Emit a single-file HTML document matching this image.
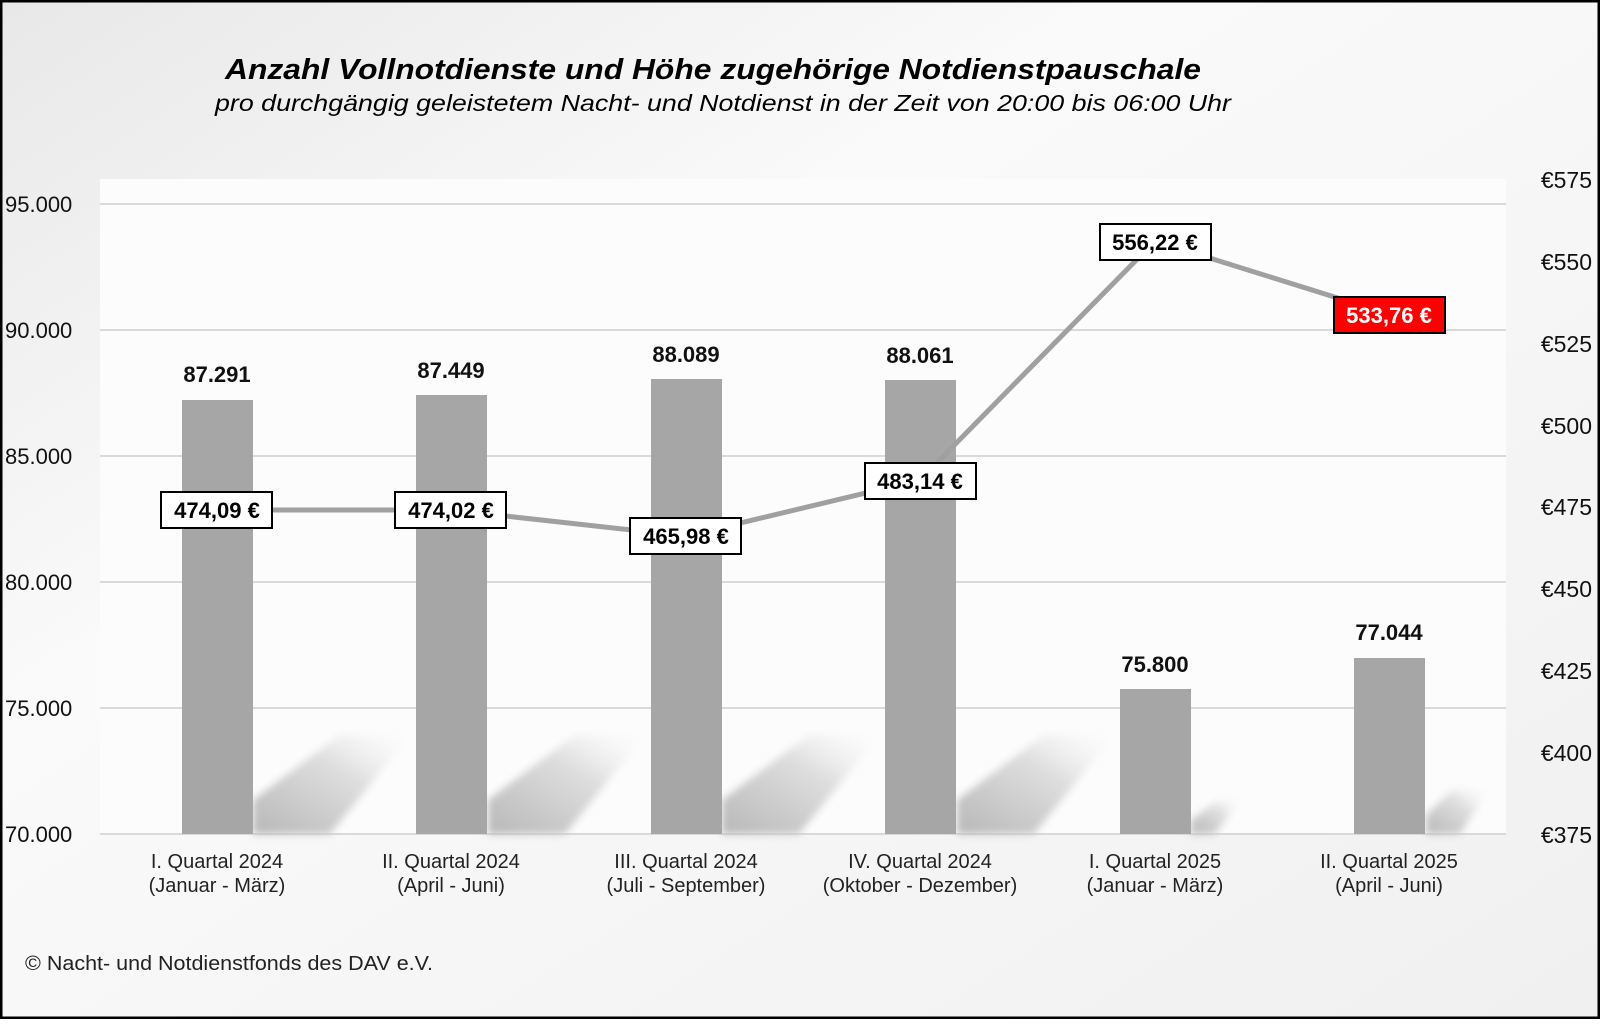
<!DOCTYPE html>
<html><head><meta charset="utf-8"><style>
html,body{margin:0;padding:0;}
body{width:1600px;height:1019px;overflow:hidden;}
</style></head><body>
<svg width="1600" height="1019" viewBox="0 0 1600 1019" xmlns="http://www.w3.org/2000/svg" font-family="Liberation Sans, Arial, sans-serif">
<defs>
<linearGradient id="bg" x1="0" y1="0" x2="1" y2="1">
<stop offset="0" stop-color="#e8e8e8"/><stop offset="0.35" stop-color="#fafafa"/><stop offset="1" stop-color="#f0f0f0"/>
</linearGradient>
<linearGradient id="sh" x1="0" y1="1" x2="1" y2="0">
<stop offset="0" stop-color="#b8b8b8"/><stop offset="0.6" stop-color="#dedede"/><stop offset="1" stop-color="#f6f6f6" stop-opacity="0"/>
</linearGradient>
<filter id="bl" x="-20%" y="-20%" width="140%" height="140%"><feGaussianBlur stdDeviation="4"/></filter>
</defs>
<rect x="0" y="0" width="1600" height="1019" fill="url(#bg)"/>
<rect x="1" y="1" width="1598" height="1017" fill="none" stroke="#000" stroke-width="3"/>
<rect x="100" y="179" width="1406" height="655" fill="#fcfcfc"/>
<text x="225" y="79" font-size="29" font-weight="bold" font-style="italic" textLength="976" lengthAdjust="spacingAndGlyphs">Anzahl  Vollnotdienste  und Höhe zugehörige  Notdienstpauschale</text>
<text x="215" y="111" font-size="23" font-style="italic" textLength="1016" lengthAdjust="spacingAndGlyphs">pro durchgängig geleistetem Nacht- und Notdienst in der Zeit von 20:00 bis 06:00 Uhr</text>
<g stroke="#d9d9d9" stroke-width="2">
<line x1="100" y1="204" x2="1506" y2="204"/><line x1="100" y1="330" x2="1506" y2="330"/>
<line x1="100" y1="456" x2="1506" y2="456"/><line x1="100" y1="582" x2="1506" y2="582"/>
<line x1="100" y1="708" x2="1506" y2="708"/><line x1="100" y1="834" x2="1506" y2="834"/>
</g>
<g font-size="22" fill="#111">
<text x="5" y="212">95.000</text><text x="5" y="338">90.000</text><text x="5" y="464">85.000</text>
<text x="5" y="590">80.000</text><text x="5" y="716">75.000</text><text x="5" y="842">70.000</text>
</g>
<g font-size="23" fill="#111" text-anchor="end">
<text x="1592" y="188">€575</text><text x="1592" y="270">€550</text><text x="1592" y="352">€525</text>
<text x="1592" y="434">€500</text><text x="1592" y="515">€475</text><text x="1592" y="597">€450</text>
<text x="1592" y="679">€425</text><text x="1592" y="761">€400</text><text x="1592" y="843">€375</text>
</g>
<g fill="url(#sh)" filter="url(#bl)">
<polygon points="253,834 253,800 340,735 410,735 330,834"/>
<polygon points="488,834 488,800 575,735 645,735 565,834"/>
<polygon points="722,834 722,800 809,735 879,735 799,834"/>
<polygon points="957,834 957,800 1044,735 1114,735 1034,834"/>
<polygon points="1191,834 1191,820 1218,800 1240,800 1215,834"/>
<polygon points="1426,834 1426,815 1452,790 1488,790 1460,834"/>
</g>
<g fill="#a6a6a6">
<rect x="182" y="400" width="71" height="434"/>
<rect x="416" y="395" width="71" height="439"/>
<rect x="651" y="379" width="71" height="455"/>
<rect x="885" y="380" width="71" height="454"/>
<rect x="1120" y="689" width="71" height="145"/>
<rect x="1354" y="658" width="71" height="176"/>
</g>
<g font-size="22" font-weight="bold" text-anchor="middle" fill="#111">
<text x="217" y="382">87.291</text><text x="451" y="378">87.449</text><text x="686" y="362">88.089</text>
<text x="920" y="363">88.061</text><text x="1155" y="672">75.800</text><text x="1389" y="640">77.044</text>
</g>
<polyline points="217,510 451,510 686,536 920,480 1155,241 1389,314" fill="none" stroke="#a0a0a0" stroke-width="5"/>
<g font-size="22" font-weight="bold" text-anchor="middle">
<rect x="161" y="492" width="111" height="36" fill="#fff" stroke="#000" stroke-width="2"/><text x="217" y="518">474,09 €</text>
<rect x="395" y="492" width="111" height="36" fill="#fff" stroke="#000" stroke-width="2"/><text x="451" y="518">474,02 €</text>
<rect x="630" y="518" width="111" height="36" fill="#fff" stroke="#000" stroke-width="2"/><text x="686" y="544">465,98 €</text>
<rect x="865" y="463" width="111" height="36" fill="#fff" stroke="#000" stroke-width="2"/><text x="920" y="489">483,14 €</text>
<rect x="1100" y="224" width="111" height="36" fill="#fff" stroke="#000" stroke-width="2"/><text x="1155" y="250">556,22 €</text>
<rect x="1334" y="297" width="111" height="36" fill="#ff0000" stroke="#000" stroke-width="2"/><text x="1389" y="323" fill="#fff">533,76 €</text>
</g>
<g font-size="20" text-anchor="middle" fill="#222">
<text x="217" y="868">I. Quartal 2024</text><text x="217" y="892">(Januar - März)</text>
<text x="451" y="868">II. Quartal 2024</text><text x="451" y="892">(April - Juni)</text>
<text x="686" y="868">III. Quartal 2024</text><text x="686" y="892">(Juli - September)</text>
<text x="920" y="868">IV. Quartal 2024</text><text x="920" y="892">(Oktober - Dezember)</text>
<text x="1155" y="868">I. Quartal 2025</text><text x="1155" y="892">(Januar - März)</text>
<text x="1389" y="868">II. Quartal 2025</text><text x="1389" y="892">(April - Juni)</text>
</g>
<text x="25" y="970" font-size="20" fill="#222" textLength="408" lengthAdjust="spacingAndGlyphs">© Nacht-  und Notdienstfonds  des DAV e.V.</text>
</svg>
</body></html>
